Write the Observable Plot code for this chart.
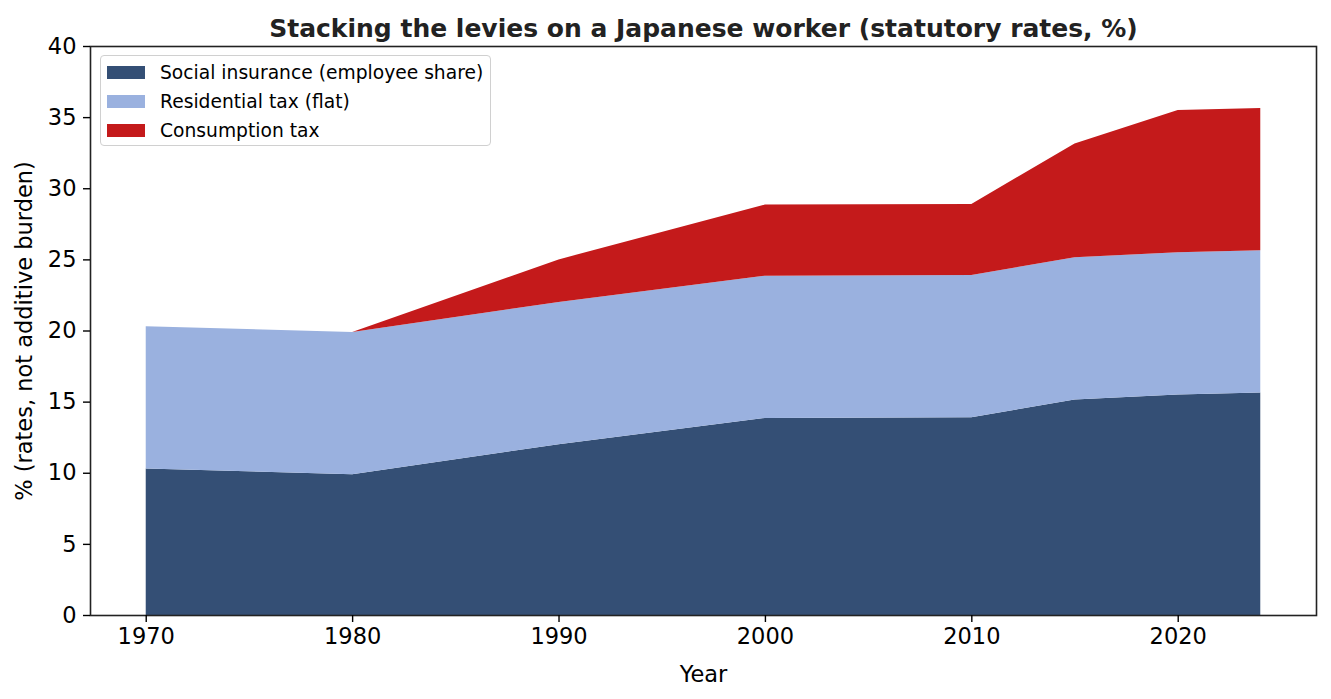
<!DOCTYPE html>
<html>
<head>
<meta charset="utf-8">
<script src="https://cdn.jsdelivr.net/npm/d3@7"></script>
<script src="https://cdn.jsdelivr.net/npm/@observablehq/plot@0.6"></script>
<style>
  html, body { margin: 0; padding: 0; background: #fff; }
  #wrap { position: relative; width: 1331px; height: 699px; font-family: "DejaVu Sans", sans-serif; }
  #legend { position: absolute; left: 100px; top: 55px; width: 391px; height: 91px; box-sizing: border-box;
    border: 1.5px solid #d0d0d0; border-radius: 4px; background: rgba(255,255,255,0.8); }
  .row { position: absolute; left: 6px; height: 22px; display: flex; align-items: center; font-size: 18.7px; color: #000; white-space: nowrap; }
  .sw { width: 38px; height: 13px; margin-right: 15px; }
</style>
</head>
<body>
<div id="wrap"></div>
<script>
const years = [1970, 1980, 1990, 2000, 2010, 2015, 2020, 2024];
const socialInsurance = [10.3, 9.9, 12.0, 13.85, 13.9, 15.15, 15.5, 15.65];
const residentialTax = [10, 10, 10, 10, 10, 10, 10, 10];
const consumptionTax = [0, 0, 3, 5, 5, 8, 10, 10];
const seriesNames = ["Social insurance (employee share)", "Residential tax (flat)", "Consumption tax"];
const seriesColors = ["#344f75", "#9ab1df", "#c41a1b"];
const xTicks = [1970, 1980, 1990, 2000, 2010, 2020];
const yTicks = [0, 5, 10, 15, 20, 25, 30, 35, 40];

const seriesValues = [socialInsurance, residentialTax, consumptionTax];
const data = [];
seriesNames.forEach((name, s) => {
  years.forEach((y, i) => data.push({year: y, value: seriesValues[s][i], series: name}));
});

const chart = Plot.plot({
  width: 1331,
  height: 699,
  marginTop: 46,
  marginBottom: 84,
  marginLeft: 90,
  marginRight: 15,
  style: {fontFamily: "DejaVu Sans, sans-serif", fontSize: "23px", color: "#000", background: "#fff"},
  x: {domain: [1967.3, 2026.7]},
  y: {domain: [0, 40]},
  color: {domain: seriesNames, range: seriesColors},
  marks: [
    Plot.areaY(data, {x: "year", y: "value", z: "series", fill: "series", order: seriesNames, fillOpacity: 1}),
    Plot.frame({stroke: "#222", strokeWidth: 1.6}),
    Plot.axisX({ticks: xTicks, tickFormat: "d", tickSize: 7, tickPadding: 6, strokeWidth: 1.4,
      fontSize: 22.5, label: "Year", labelAnchor: "center", labelOffset: 66, labelArrow: "none"}),
    Plot.axisY({ticks: yTicks, tickSize: 7, tickPadding: 7, strokeWidth: 1.4,
      fontSize: 22.5, label: "% (rates, not additive burden)", labelAnchor: "center", labelOffset: 74, labelArrow: "none"}),
    Plot.text(["Stacking the levies on a Japanese worker (statutory rates, %)"], {
      frameAnchor: "top", dy: -27, fontSize: 25, fontWeight: "bold", fill: "#222"
    })
  ]
});
document.getElementById("wrap").appendChild(chart);

const legend = document.createElement("div");
legend.id = "legend";
seriesNames.forEach((name, i) => {
  const row = document.createElement("div");
  row.className = "row";
  row.style.top = (5 + i * 29) + "px";
  const sw = document.createElement("div");
  sw.className = "sw";
  sw.style.background = seriesColors[i];
  const t = document.createElement("span");
  t.textContent = name;
  row.appendChild(sw); row.appendChild(t);
  legend.appendChild(row);
});
document.getElementById("wrap").appendChild(legend);
</script>
</body>
</html>
